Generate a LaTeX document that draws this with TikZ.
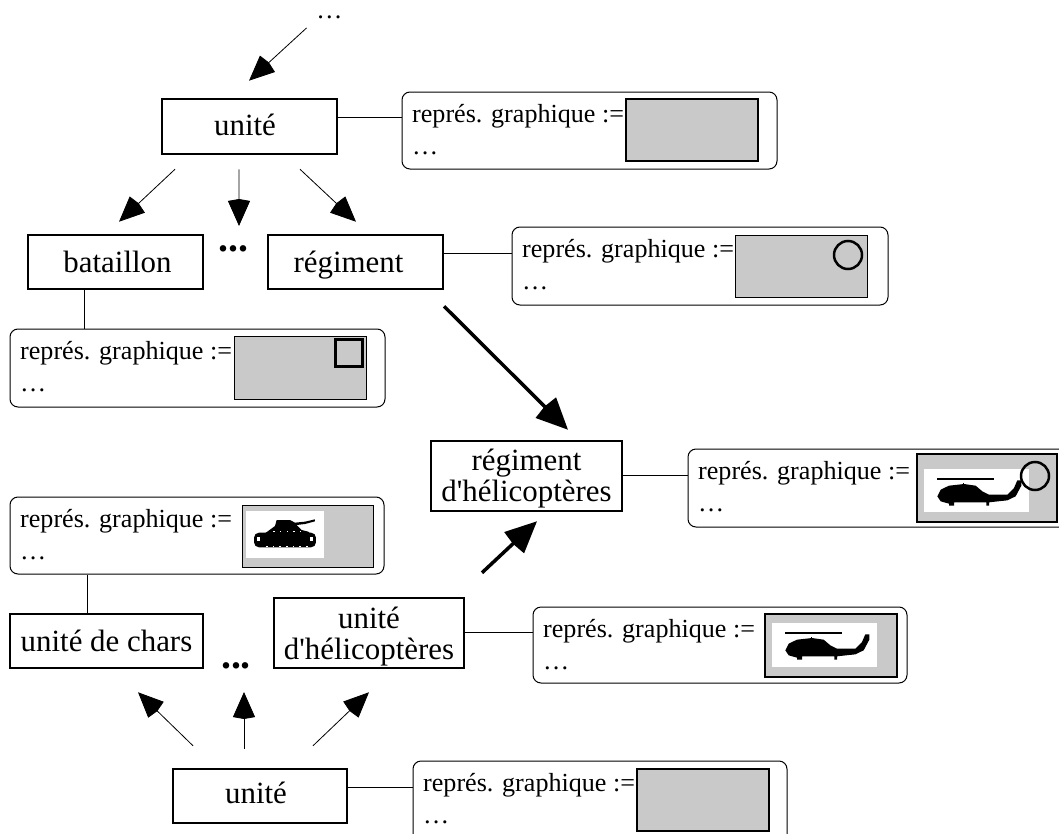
\documentclass[tikz,border=0pt]{standalone}
\usepackage{fontspec}
\setmainfont{Liberation Serif}
\usetikzlibrary{arrows.meta}
\definecolor{fondgris}{gray}{0.79}
\newcommand{\heli}[2]{%
\begin{scope}[shift={(#1,#2)},x=0.3333bp,y=-0.3333bp]
\fill (40,26) rectangle (210,32);
\fill (118,42) rectangle (121,50);
\fill (40,82) -- (50,62) -- (75,50) -- (120,45) -- (155,50) -- (175,67) -- (195,77) -- (250,77) -- (270,57) -- (280,34) -- (292,34) -- (292,50) -- (275,82) -- (250,94) -- (195,100) -- (195,110) -- (187,110) -- (187,100) -- (90,100) -- (90,110) -- (75,110) -- (75,104) -- (50,97) -- cycle;
\end{scope}}
\newcommand{\tank}[2]{%
\begin{scope}[shift={(#1,#2)},x=0.3333bp,y=-0.3333bp]
\fill[rounded corners=5bp] (24,65) rectangle (210,109);
\fill (57,67) -- (87,45) -- (92,27) -- (132,27) -- (147,35) -- (177,32) -- (207,25) -- (207,31) -- (177,39) -- (152,42) -- (167,57) -- (187,62) -- (195,70) -- cycle;
\fill[white] (33,78) rectangle (43,90);
\fill[white] (191,78) rectangle (201,90);
\foreach \q in {82,102,122,142,162} {\fill[white] (\q,60) rectangle ++(4,4);}
\foreach \q in {60,80,100,120,140,160,180} {\fill[white] (\q,106) rectangle ++(5,3);}
\end{scope}}
\tikzset{
 x=1bp,y=-1bp,
 classe/.style={draw,line width=2.5bp,fill=white,inner sep=0pt,align=center,font=\fontsize{31}{31}\selectfont},
 fiche/.style={draw,line width=1bp,rounded corners=8bp,fill=white,inner sep=0pt},
 txt/.style={inner sep=0pt,anchor=base west,font=\fontsize{26.2}{28}\selectfont},
 lien/.style={draw,line width=0.8bp},
 fleche/.style={draw,line width=0.8bp,-{Stealth[length=25bp,width=22bp,inset=-2bp]}},
 grasse/.style={draw,line width=3.5bp,-{Stealth[length=31bp,width=28bp,inset=-2bp]}},
 fond/.style={draw,fill=fondgris,inner sep=0pt},
 forme/.style={draw,line width=2.5bp,fill=none,inner sep=0pt},
 pts/.style={inner sep=0pt,anchor=base,font=\fontsize{40}{42}\bfseries\selectfont},
}
\newcommand{\bl}[2]{\smash{\raisebox{-#1bp}{#2}}}
\newcommand{\boite}[5]{% name x1 y1 x2 y2
 \node[fiche,minimum width={(#4-#2)*1bp},minimum height={(#5-#3)*1bp}] (#1) at ({(#2+#4)/2},{(#3+#5)/2}) {};
 \node[txt] (#1t) at (#2+10,#3+30) {représ. graphique :=};
 \node[txt] (#1d) at (#2+10,#3+62) {…};}
\newcommand{\cadre}[6]{% name x1 y1 x2 y2 width
 \node[fond,line width=#6bp,minimum width={(#4-#2)*1bp},minimum height={(#5-#3)*1bp}] (#1) at ({(#2+#4)/2},{(#3+#5)/2}) {};}
\newcommand{\blanc}[5]{%
 \node[fill=white,inner sep=0pt,minimum width={(#4-#2)*1bp},minimum height={(#5-#3)*1bp}] (#1) at ({(#2+#4)/2},{(#3+#5)/2}) {};}
\newcommand{\classebox}[6]{% name x1 y1 x2 y2 text
 \node[classe,minimum width={(#4-#2)*1bp},minimum height={(#5-#3)*1bp}] (#1) at ({(#2+#4)/2},{(#3+#5)/2}) {#6};}
\begin{document}
\begin{tikzpicture}
\useasboundingbox[fill=white] (0,0) rectangle (1059,834);
% classes
\classebox{utop}{162}{99}{337}{154}{\bl{8.5}{unité}\hspace{9bp}}
\classebox{bat}{28}{235}{203}{289}{\hspace{4bp}\bl{10}{bataillon}}
\classebox{reg}{268}{235}{443}{289}{\bl{10}{régiment}\hspace{14bp}}
\classebox{rh}{431}{441}{622}{511}{\rule{0pt}{26bp}régiment\\d\textquotesingle hélicoptères\hspace{4bp}}
\classebox{chars}{10}{614}{203}{668}{\bl{10}{unité de chars}}
\classebox{uh}{274}{598}{464}{668}{\rule{0pt}{29bp}unité\\d\textquotesingle hélicoptères\hspace{5bp}}
\classebox{ubot}{173}{769}{347}{823}{\bl{7}{unité}\hspace{8bp}}
% fiches
\boite{f1}{402}{92}{777}{169}
\cadre{g1}{626}{99}{758}{161}{2.5}
\boite{f2}{512}{227}{888}{305}
\cadre{g2}{735}{235}{867}{297}{1}
\node[forme,circle,minimum size=28bp] (o2) at (848,255) {};
\boite{f3}{10}{329}{385}{407}
\cadre{g3}{234}{336}{366}{399}{1}
\node[forme,minimum size=27bp] (s3) at (349,353) {};
\boite{f4}{688}{449}{1070}{527}
\cadre{g4}{917}{454}{1057}{522}{2.5}
\blanc{w4}{924}{469}{1029}{512}
\heli{924}{469}
\node[forme,circle,minimum size=28bp] (o4) at (1035,476) {};
\boite{f5}{10}{497}{384}{574}
\cadre{g5}{242}{505}{373}{567}{1}
\blanc{w5}{246}{511}{324}{558}
\tank{246}{511}
\boite{f6}{533}{607}{907}{683}
\cadre{g6}{765}{614}{897}{677}{1.5}
\blanc{w6}{772}{623}{877}{667}
\heli{772}{623}
\boite{f7}{413}{761}{787}{845}
\cadre{g7}{637}{769}{769}{831}{2.5}
% liens
\draw[lien] (utop.east |- 0,117) -- (f1.west |- 0,117);
\draw[lien] (reg.east |- 0,253) -- (f2.west |- 0,253);
\draw[lien] (bat.south -| 84,0) -- (f3.north -| 84,0);
\draw[lien] (rh.east |- 0,475) -- (f4.west |- 0,475);
\draw[lien] (chars.north -| 87,0) -- (f5.south -| 87,0);
\draw[lien] (uh.east |- 0,632) -- (f6.west |- 0,632);
\draw[lien] (ubot.east |- 0,787) -- (f7.west |- 0,787);
% points
\node[inner sep=0pt,anchor=base,font=\fontsize{26.2}{28}\selectfont] (dtop) at (329.5,18) {…};
\node[pts] (d1) at (233.5,251) {...};
\node[pts] (d2) at (236,668) {...};
% fleches
\draw[fleche] ([shift={(-23,10)}]dtop.base) -- ([shift={(-0.5,-17)}]utop.north);
\draw[fleche] ([shift={(-74.5,14)}]utop.south) -- ([shift={(3.5,-12)}]bat.north);
\draw[fleche] ([shift={(-10.5,14)}]utop.south) -- ([shift={(5.5,-25)}]d1.base);
\draw[fleche] ([shift={(50.5,14)}]utop.south) -- ([shift={(0.5,-12)}]reg.north);
\draw[grasse] ([shift={(88.5,16)}]reg.south) -- ([shift={(41.5,-10)}]rh.north);
\draw[grasse] ([shift={(113,-24)}]uh.north) -- ([shift={(10.5,9)}]rh.south);
\draw[fleche] ([shift={(-67,-22)}]ubot.north) -- ([shift={(31.5,23)}]chars.south);
\draw[fleche] ([shift={(-16,-19)}]ubot.north) -- ([shift={(8,24)}]d2.base);
\draw[fleche] ([shift={(53,-22)}]ubot.north) -- ([shift={(0,23)}]uh.south);
\end{tikzpicture}
\end{document}
